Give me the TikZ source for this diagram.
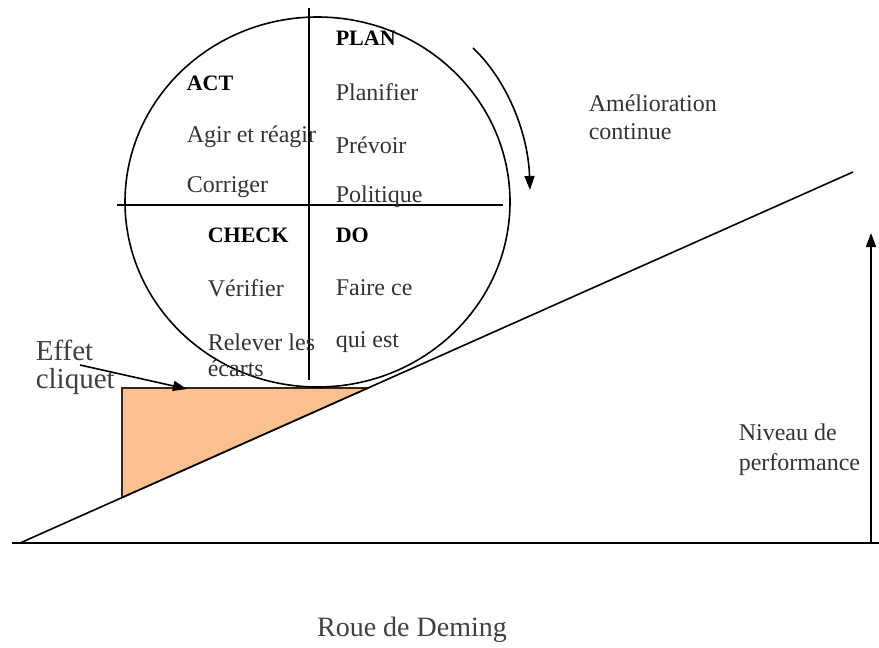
\documentclass[tikz,border=0pt]{standalone}
\usepackage{fontspec}
\setmainfont{Liberation Serif}
\usetikzlibrary{positioning,arrows.meta}
\definecolor{cliquetfill}{RGB}{250,192,143}
\definecolor{cliquetline}{RGB}{60,35,20}

\begin{document}
\begin{tikzpicture}[x=0.5pt,y=-0.5pt,
    line width=0.8pt,
    lbl/.style={anchor=west,inner sep=0pt,font=\fontsize{12}{14}\selectfont,text=black!80},
    head/.style={anchor=west,inner sep=0pt,font=\fontsize{11}{13}\selectfont\bfseries},
    big/.style={anchor=west,inner sep=0pt,font=\fontsize{14.5}{17}\selectfont,text=black!75},
    arr/.style={-{Triangle[length=7pt,width=5pt]}}]
    \useasboundingbox (0,0) rectangle (879,648);

    % effet cliquet
    \filldraw[fill=cliquetfill,draw=cliquetline] (122,388) -- (368,388) -- (122,497.6) -- cycle;

    % pente et axe
    \draw (20,543) -- (853,172);
    \draw (12,543) -- (879,543);
    \coordinate (axebas) at (871,543);
    \coordinate (axehaut) at (871,233);
    \draw[arr] (axebas) -- (axehaut);

    % roue
    \draw (317.5,202) ellipse [x radius=192.5, y radius=185];
    \draw (117,205) -- (503,205);
    \draw (309,8) -- (309,380);

    \node[head] (plan) at (335,38) {PLAN};
    \node[lbl] (planifier) at (335,92) {Planifier};
    \node[lbl] (prevoir) at (335,145) {Prévoir};
    \node[lbl] (politique) at (335,197) {Politique};

    \node[head] (act) at (186,83) {ACT};
    \node[lbl] (agir) at (186,137) {Agir et réagir};
    \node[lbl] (corriger) at (186,187) {Corriger};

    \node[head] (check) at (207,235) {CHECK};
    \node[lbl] (verifier) at (207,288) {Vérifier};
    \node[lbl] (relever) at (207,342) {Relever les};
    \node[lbl] (ecarts) at (207,368) {écarts};

    \node[head] (do) at (335,235) {DO};
    \node[lbl] (faire) at (335,288) {Faire ce};
    \node[lbl] (quiest) at (335,342) {qui est};

    % amelioration continue
    \coordinate (amdebut) at (473,48);
    \coordinate (amfin) at (530,190);
    \draw[arr] (amdebut) .. controls (505,78) and (528,130) .. (amfin);
    \node[lbl] (amelioration) at (588,103) {Amélioration};
    \node[lbl] (continue) at (588,132) {continue};

    \node[lbl] (niveau) at (738,432) {Niveau de};
    \node[lbl] (performance) at (738,465) {performance};

    \node[big] (effet) at (35,350) {Effet};
    \node[big] (cliquet) at (35,382) {cliquet};
    \coordinate (cliquetde) at (80,365);
    \coordinate (cliquetvers) at (187,389);
    \draw[arr] (cliquetde) -- (cliquetvers);

    \node[font=\fontsize{14}{17}\selectfont,text=black!75] (titre) at (412,630) {Roue de Deming};
\end{tikzpicture}
\end{document}
